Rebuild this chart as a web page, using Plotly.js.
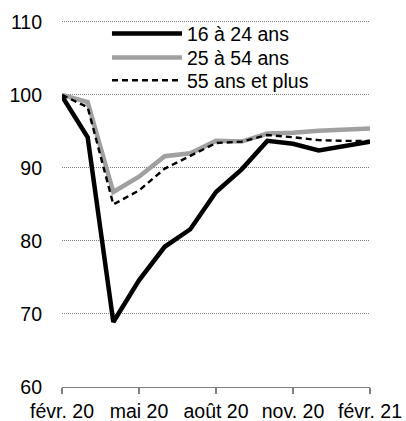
<!DOCTYPE html>
<html>
<head>
<meta charset="utf-8">
<script src="https://cdn.plot.ly/plotly-3.0.1.min.js"></script>
<style>html,body{margin:0;padding:0;background:#fff;}#chart{width:406px;height:421px;}</style>
</head>
<body>
<div id="chart"></div>
<script>
const months = ['févr. 20','mars 20','avr. 20','mai 20','juin 20','juil. 20','août 20','sept. 20','oct. 20','nov. 20','déc. 20','janv. 21','févr. 21'];
const tickLabels = ['févr. 20','mai 20','août 20','nov. 20','févr. 21'];
const age16_24 = [99.8, 94.2, 68.9, 74.6, 79.2, 81.6, 86.7, 89.8, 93.7, 93.3, 92.4, 93.0, 93.6];
const age25_54 = [100, 99.0, 86.7, 88.8, 91.6, 92.0, 93.7, 93.6, 94.7, 94.8, 95.1, 95.2, 95.4];
const age55plus = [100, 98.3, 85.0, 86.9, 89.9, 91.7, 93.4, 93.6, 94.5, 94.2, 93.8, 93.7, 93.7];
const names = ['16 à 24 ans', '25 à 54 ans', '55 ans et plus'];

const font = {family: 'Arial, "Liberation Sans", sans-serif', size: 19.5, color: '#000'};

const data = [
  {x: months, y: age25_54, name: names[1], type: 'scatter', mode: 'lines', legend: 'legend2',
   line: {color: '#a0a0a0', width: 4.5}},
  {x: months, y: age55plus, name: names[2], type: 'scatter', mode: 'lines', legend: 'legend3',
   line: {color: '#000', width: 2.4, dash: '6px,4px'}},
  {x: months, y: age16_24, name: names[0], type: 'scatter', mode: 'lines', legend: 'legend',
   line: {color: '#000', width: 4.5}}
];

function leg(y) {
  return {x: 0.146, y: y, xanchor: 'left', yanchor: 'middle', bgcolor: 'rgba(0,0,0,0)',
          itemwidth: 70, font: font};
}

const layout = {
  width: 406, height: 421,
  margin: {l: 62, r: 36, t: 20, b: 34},
  paper_bgcolor: '#fff', plot_bgcolor: '#fff',
  font: font,
  showlegend: true,
  legend: leg(0.962),
  legend2: leg(0.897),
  legend3: leg(0.835),
  xaxis: {type: 'category', categoryorder: 'array', categoryarray: months,
          range: [0, 12], tickvals: tickLabels, ticktext: tickLabels,
          showgrid: false, zeroline: false, showline: true, linecolor: '#808080', linewidth: 1.3,
          ticks: 'outside', ticklen: 6, tickcolor: '#808080', tickwidth: 1.3,
          tickfont: font, fixedrange: true},
  yaxis: {range: [60, 110.25], tickvals: [60, 70, 80, 90, 100, 110], ticks: '',
          showgrid: true, gridcolor: '#808080', gridwidth: 1, griddash: '1px,1px',
          zeroline: false, showline: false, ticklabelstandoff: 19,
          tickfont: font, fixedrange: true}
};

Plotly.newPlot('chart', data, layout, {displayModeBar: false, staticPlot: true});
</script>
</body>
</html>
